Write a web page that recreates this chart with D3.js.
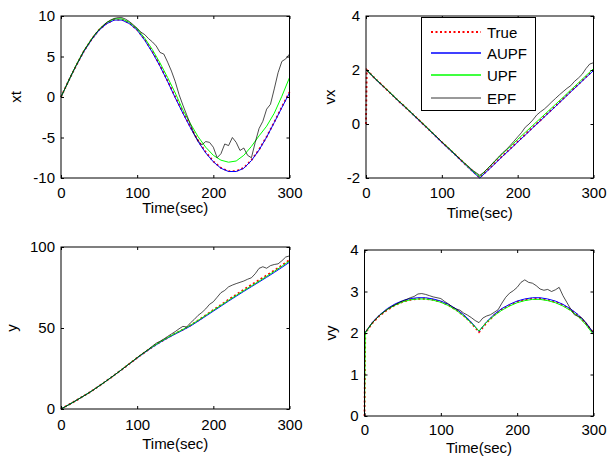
<!DOCTYPE html>
<html>
<head>
<meta charset="utf-8">
<script src="https://cdnjs.cloudflare.com/ajax/libs/d3/7.8.5/d3.min.js"></script>
<style>
  body { margin: 0; background: #fff; }
  svg { display: block; font-family: "Liberation Sans", Arial, sans-serif; }
</style>
</head>
<body>
<svg id="chart"></svg>
<script>
let w = 609;
let h = 457;

// sample times (sec): coarse series have an extra sample at t=1 for the start jump
let tCoarse = [0, 1, 10, 20, 30, 40, 50, 60, 70, 80, 90, 100, 110, 120, 130, 140, 150,
  160, 170, 180, 190, 200, 210, 220, 230, 240, 250, 260, 270, 280, 290, 300];
let tFine = [0, 5, 10, 15, 20, 25, 30, 35, 40, 45, 50, 55, 60, 65, 70, 75, 80, 85, 90, 95, 100,
  105, 110, 115, 120, 125, 130, 135, 140, 145, 150, 155, 160, 165, 170, 175, 180, 185, 190, 195, 200,
  205, 210, 215, 220, 225, 230, 235, 240, 245, 250, 255, 260, 265, 270, 275, 280, 285, 290, 295, 300];

let xTicks = [0, 100, 200, 300];
let seriesNames = ["True", "AUPF", "UPF", "EPF"];

// xt
let trueXt = [0, 0.2, 2.0, 3.9, 5.65, 7.1, 8.3, 9.1, 9.55, 9.55, 9.1, 8.3, 7.1, 5.6, 3.9, 2.0, 0.0,
  -1.9, -3.7, -5.4, -6.8, -7.95, -8.75, -9.15, -9.15, -8.75, -7.8, -6.5, -4.9, -3.1, -1.2, 0.6];
let aupfXt = [0, 0.2, 2.0, 3.9, 5.6, 7.05, 8.25, 9.05, 9.5, 9.5, 9.05, 8.25, 7.0, 5.5, 3.8, 1.9, -0.1,
  -2.0, -3.8, -5.5, -6.9, -8.0, -8.8, -9.2, -9.2, -8.8, -7.85, -6.55, -4.95, -3.15, -1.3, 0.5];
let upfXt = [0, 0.2, 2.0, 3.95, 5.7, 7.15, 8.35, 9.2, 9.65, 9.65, 9.2, 8.4, 7.25, 5.85, 4.2, 2.4, 0.5,
  -1.6, -3.3, -4.9, -6.2, -7.2, -7.8, -8.05, -7.9, -7.2, -6.1, -4.8, -3.6, -2.0, 0.1, 2.4];
let epfXt = [0, 1.0, 2.0, 3.0, 3.9, 4.8, 5.7, 6.4, 7.1, 7.8, 8.3,
  8.8, 9.2, 9.5, 9.7, 9.8, 9.8, 9.6, 9.3, 8.9, 8.5,
  8.0, 7.7, 7.2, 6.8, 6.3, 5.5, 5.3, 4.3, 3.2, 1.9,
  0.3, -1.0, -2.2, -3.4, -4.6, -5.4, -5.9, -5.5, -5.6, -6.2,
  -7.5, -7.0, -5.8, -6.0, -5.0, -5.6, -6.6, -6.3, -7.2, -7.5,
  -5.6, -3.9, -3.0, -1.5, -0.9, 1.0, 3.0, 4.4, 4.7, 5.3];

// vx
let trueVx = [0, 2.0, 1.74, 1.47, 1.2, 0.93, 0.67, 0.41, 0.14, -0.13, -0.40, -0.67, -0.93, -1.20, -1.47, -1.73, -1.98,
  -1.72, -1.45, -1.18, -0.92, -0.65, -0.39, -0.12, 0.14, 0.41, 0.67, 0.94, 1.21, 1.47, 1.74, 2.0];
let aupfVx = [2.0, 2.0, 1.73, 1.46, 1.2, 0.93, 0.66, 0.4, 0.13, -0.14, -0.41, -0.68, -0.95, -1.21, -1.48, -1.75, -2.0,
  -1.74, -1.47, -1.2, -0.94, -0.67, -0.41, -0.14, 0.12, 0.39, 0.65, 0.92, 1.19, 1.45, 1.72, 1.98];
let upfVx = [2.0, 2.0, 1.74, 1.47, 1.21, 0.94, 0.68, 0.41, 0.15, -0.12, -0.39, -0.66, -0.92, -1.19, -1.46, -1.72, -1.95,
  -1.66, -1.38, -1.1, -0.84, -0.57, -0.31, -0.05, 0.21, 0.47, 0.73, 0.99, 1.26, 1.52, 1.79, 2.05];
let epfVx = [2.0, 1.88, 1.74, 1.6, 1.48, 1.34, 1.2, 1.06, 0.93, 0.80, 0.68,
  0.54, 0.41, 0.28, 0.15, 0.01, -0.12, -0.26, -0.39, -0.52, -0.66,
  -0.80, -0.92, -1.06, -1.19, -1.32, -1.45, -1.57, -1.70, -1.80, -1.90,
  -1.80, -1.66, -1.52, -1.36, -1.22, -1.07, -0.95, -0.80, -0.64, -0.48,
  -0.32, -0.12, 0.0, 0.15, 0.33, 0.45, 0.55, 0.68, 0.82, 0.95,
  1.08, 1.20, 1.32, 1.42, 1.58, 1.70, 1.84, 2.05, 2.22, 2.27];

// y
let trueY = [0, 0.26, 2.6, 5.3, 8.1, 11.0, 14.2, 17.5, 20.9, 24.4, 28.0, 31.6, 35.0, 38.3, 41.3, 44.0, 46.6,
  49.0, 51.6, 54.7, 57.9, 61.1, 64.3, 67.5, 70.6, 73.7, 76.7, 79.6, 82.5, 85.5, 88.7, 92.0];
let aupfY = [0, 0.26, 2.6, 5.3, 8.1, 11.0, 14.2, 17.5, 20.9, 24.4, 28.0, 31.5, 34.9, 38.1, 41.1, 43.8, 46.3,
  48.7, 51.2, 54.2, 57.3, 60.4, 63.5, 66.6, 69.6, 72.6, 75.5, 78.4, 81.3, 84.3, 87.4, 90.6];
let upfY = [0, 0.26, 2.6, 5.3, 8.1, 11.0, 14.2, 17.5, 20.9, 24.5, 28.1, 31.7, 35.1, 38.4, 41.4, 44.1, 46.7,
  49.1, 51.7, 54.7, 57.8, 60.9, 64.0, 67.1, 70.1, 73.1, 76.0, 78.9, 81.9, 85.0, 88.1, 91.4];
let epfY = [0, 1.3, 2.6, 3.9, 5.3, 6.7, 8.1, 9.5, 11.0, 12.6, 14.2,
  15.8, 17.5, 19.2, 20.9, 22.6, 24.4, 26.2, 28.0, 29.8, 31.7,
  33.5, 35.2, 36.9, 38.8, 40.6, 41.8, 43.2, 44.8, 46.3, 47.8,
  49.5, 51.0, 50.6, 53.2, 55.3, 57.8, 59.6, 61.8, 64.6, 66.2,
  69.0, 71.8, 73.2, 75.4, 76.5, 77.4, 78.2, 79.0, 80.1, 81.0,
  83.5, 86.8, 87.8, 86.9, 88.5, 89.2, 89.6, 91.5, 93.8, 94.5];

// vy
let trueVy = [0, 2.0, 2.23, 2.42, 2.56, 2.67, 2.75, 2.80, 2.825, 2.825, 2.80, 2.75, 2.67, 2.56, 2.42, 2.24, 2.02,
  2.25, 2.43, 2.57, 2.67, 2.75, 2.80, 2.826, 2.825, 2.80, 2.75, 2.67, 2.56, 2.42, 2.23, 2.0];
let aupfVy = [2.0, 2.0, 2.25, 2.44, 2.59, 2.70, 2.78, 2.83, 2.85, 2.85, 2.82, 2.77, 2.69, 2.58, 2.44, 2.26, 2.04,
  2.27, 2.45, 2.59, 2.69, 2.77, 2.82, 2.85, 2.85, 2.82, 2.77, 2.69, 2.58, 2.44, 2.25, 2.0];
let upfVy = [0, 2.0, 2.24, 2.43, 2.57, 2.67, 2.75, 2.80, 2.82, 2.82, 2.79, 2.74, 2.66, 2.55, 2.41, 2.24, 2.05,
  2.26, 2.42, 2.55, 2.65, 2.73, 2.78, 2.81, 2.81, 2.78, 2.73, 2.65, 2.54, 2.40, 2.20, 1.96];
let epfVy = [2.0, 2.12, 2.24, 2.34, 2.43, 2.50, 2.57, 2.63, 2.68, 2.73, 2.77,
  2.81, 2.85, 2.88, 2.94, 2.95, 2.93, 2.90, 2.87, 2.85, 2.83,
  2.76, 2.70, 2.63, 2.58, 2.55, 2.48, 2.43, 2.37, 2.30, 2.25,
  2.36, 2.41, 2.44, 2.50, 2.56, 2.72, 2.86, 2.96, 3.02, 3.10,
  3.22, 3.28, 3.22, 3.20, 3.14, 3.06, 3.03, 3.05, 3.00, 3.04,
  3.10, 2.90, 2.74, 2.58, 2.44, 2.40, 2.36, 2.24, 2.12, 2.0];

// line styles in legend order
let styles = [
  { color: "#ff0000", width: 1.8, dash: "2,2.5" },
  { color: "#0000ff", width: 1, dash: null },
  { color: "#00ff00", width: 1, dash: null },
  { color: "#000000", width: 0.7, dash: null }
];

let panels = [
  { name: "xt", yTicks: [-10, -5, 0, 5, 10], box: [61, 16, 289.5, 178], ylabX: 21, tickOff: 15, titleOff: 30,
    series: [trueXt, aupfXt, upfXt, epfXt] },
  { name: "vx", yTicks: [-2, 0, 2, 4], box: [366, 16, 593.5, 178], ylabX: 335, tickOff: 15, titleOff: 35,
    series: [trueVx, aupfVx, upfVx, epfVx] },
  { name: "y", yTicks: [0, 50, 100], box: [61, 247, 289.5, 409], ylabX: 17, tickOff: 16, titleOff: 34.5,
    series: [trueY, aupfY, upfY, epfY] },
  { name: "vy", yTicks: [0, 1, 2, 3, 4], box: [364.5, 250, 593.5, 416], ylabX: 336, tickOff: 14, titleOff: 32,
    series: [trueVy, aupfVy, upfVy, epfVy] }
];

let fontSize = 15;

let svg = d3.select("#chart")
  .attr("width", w)
  .attr("height", h);

svg.append("rect")
  .attr("width", w)
  .attr("height", h)
  .style("fill", "#fff");

panels.forEach(drawPanel);
drawLegend();

function drawPanel(p) {
  let [x0, y0, x1, y1] = p.box;
  let xScale = d3.scaleLinear().domain([0, 300]).range([x0, x1]);
  let yScale = d3.scaleLinear().domain(d3.extent(p.yTicks)).range([y1, y0]);

  let g = svg.append("g");

  let line = d3.line()
    .x((d) => xScale(d[0]))
    .y((d) => yScale(d[1]));

  p.series.forEach((vals, i) => {
    let t = vals.length === tFine.length ? tFine : tCoarse;
    g.append("path")
      .datum(d3.zip(t, vals))
      .attr("d", line)
      .style("fill", "none")
      .style("stroke", styles[i].color)
      .style("stroke-width", styles[i].width)
      .style("stroke-dasharray", styles[i].dash);
  });

  // axes, ticks pointing inward (matlab style)
  let fmt = (d) => String(d);
  let xAxis = d3.axisBottom(xScale).tickValues(xTicks).tickFormat(fmt).tickSizeInner(-3).tickSizeOuter(0)
    .tickPadding(p.tickOff - 0.352 * fontSize);
  let yAxis = d3.axisLeft(yScale).tickValues(p.yTicks).tickFormat(fmt).tickSizeInner(-3).tickSizeOuter(0)
    .tickPadding(6);
  let xTop = d3.axisTop(xScale).tickValues(xTicks).tickSizeInner(-3).tickSizeOuter(0).tickFormat("");
  let yRight = d3.axisRight(yScale).tickValues(p.yTicks).tickSizeInner(-3).tickSizeOuter(0).tickFormat("");

  [
    [xAxis, "translate(0," + y1 + ")"],
    [yAxis, "translate(" + x0 + ",0)"],
    [xTop, "translate(0," + y0 + ")"],
    [yRight, "translate(" + x1 + ",0)"]
  ].forEach(([ax, tr]) => {
    let a = g.append("g")
      .attr("transform", tr)
      .call(ax)
      .attr("font-family", null)
      .attr("font-size", fontSize);
    a.select(".domain").remove();
    a.selectAll("line").style("stroke", "#000");
    a.selectAll("text").style("fill", "#000");
  });

  g.append("rect")
    .attr("x", x0)
    .attr("y", y0)
    .attr("width", x1 - x0)
    .attr("height", y1 - y0)
    .style("fill", "none")
    .style("stroke", "#000")
    .style("stroke-width", 1);

  g.append("text")
    .attr("x", (x0 + x1) / 2)
    .attr("y", y1 + p.titleOff)
    .attr("dy", "0.35em")
    .attr("text-anchor", "middle")
    .attr("font-size", fontSize)
    .text("Time(sec)");

  let cy = (y0 + y1) / 2;
  g.append("text")
    .attr("x", p.ylabX)
    .attr("y", cy)
    .attr("transform", "rotate(-90," + p.ylabX + "," + cy + ")")
    .attr("text-anchor", "middle")
    .attr("font-size", fontSize)
    .text(p.name);
}

function drawLegend() {
  let lg = svg.append("g");
  lg.append("rect")
    .attr("x", 421.5)
    .attr("y", 17.5)
    .attr("width", 114)
    .attr("height", 93)
    .style("fill", "#fff")
    .style("stroke", "#000")
    .style("stroke-width", 1);

  // legend samples are drawn as short paths so they render like the plotted curves
  let rows = [32, 53, 75, 98];
  seriesNames.forEach((name, i) => {
    lg.append("path")
      .attr("d", "M431," + rows[i] + "H481")
      .style("fill", "none")
      .style("stroke", styles[i].color)
      .style("stroke-width", i === 0 ? 2 : (i === 3 ? 0.8 : 1.4))
      .style("stroke-dasharray", styles[i].dash);
    lg.append("text")
      .attr("x", 487)
      .attr("y", rows[i] + 0.5)
      .attr("dy", "0.35em")
      .attr("font-size", fontSize)
      .text(name);
  });
}
</script>
</body>
</html>
